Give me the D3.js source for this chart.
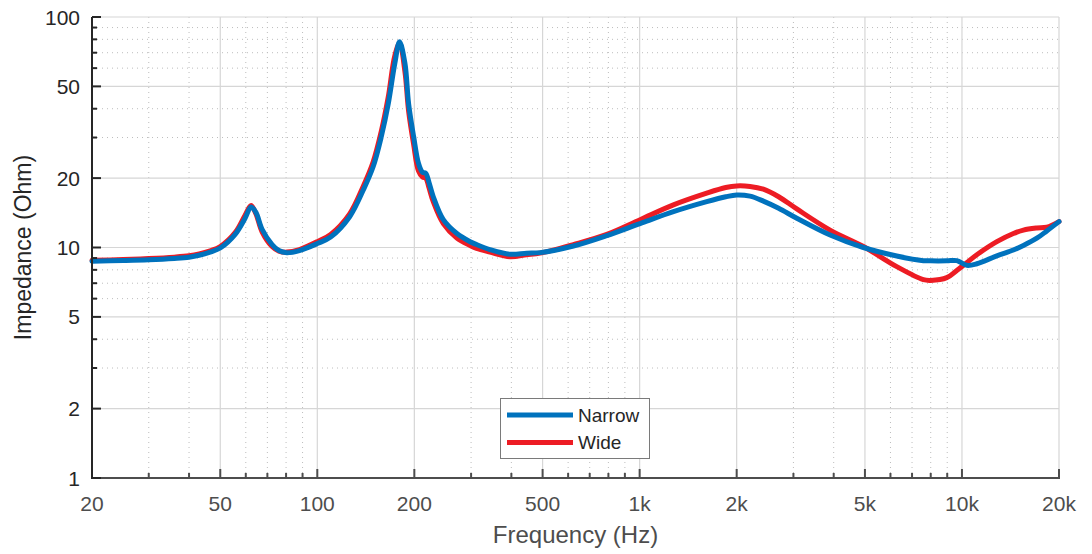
<!DOCTYPE html>
<html>
<head>
<meta charset="utf-8">
<script src="https://cdn.jsdelivr.net/npm/d3@7"></script>
<style>
  html, body { margin: 0; padding: 0; background: #fff; }
  svg { display: block; font-family: "Liberation Sans", Arial, Helvetica, sans-serif; }
</style>
</head>
<body>
<svg id="chart" width="1092" height="554"></svg>
<script>
// ---- data ----
const freq = [20, 25, 30, 36, 40, 43, 46.5, 50, 55.6, 59.7, 62.3, 64.5, 67.4, 72.4, 76, 80.4, 88, 100, 110, 126, 139, 149, 158, 166, 174, 180, 187, 192, 199, 206, 212, 217, 222, 229, 246, 271, 298, 312, 343, 396, 446, 491, 623, 791, 1003, 1273, 1615, 1850, 2000, 2200, 2420, 2700, 3073, 3898, 4945, 6276, 7592, 8000, 8970, 9636, 10350, 11120, 12830, 14440, 15510, 17070, 18330, 20000];
const narrow = [8.72, 8.78, 8.85, 8.97, 9.08, 9.25, 9.55, 9.95, 11.4, 13.4, 15.0, 14.2, 12.0, 10.3, 9.7, 9.5, 9.7, 10.4, 11.1, 13.6, 17.8, 22.4, 30.3, 42, 63, 78, 63, 42, 30.3, 23.2, 21.2, 21.0, 19.2, 16.6, 13.2, 11.5, 10.6, 10.3, 9.8, 9.35, 9.45, 9.5, 10.15, 11.26, 12.7, 14.3, 15.8, 16.6, 16.9, 16.7, 15.9, 14.8, 13.4, 11.33, 10.0, 9.18, 8.77, 8.75, 8.75, 8.77, 8.37, 8.5, 9.2, 9.75, 10.2, 10.97, 11.8, 12.95];
const wide = [8.8, 8.86, 8.95, 9.08, 9.2, 9.37, 9.67, 10.1, 11.6, 13.8, 15.2, 14.0, 11.7, 10.1, 9.65, 9.55, 9.8, 10.6, 11.4, 14.0, 18.5, 23.5, 32, 45, 68, 77, 58, 39, 28, 21.5, 20.2, 20.0, 18.2, 15.8, 12.7, 11.0, 10.2, 9.9, 9.55, 9.12, 9.3, 9.45, 10.3, 11.4, 13.2, 15.3, 17.2, 18.2, 18.5, 18.4, 17.9, 16.6, 14.7, 11.9, 10.1, 8.26, 7.25, 7.2, 7.4, 7.95, 8.6, 9.3, 10.6, 11.5, 11.9, 12.15, 12.25, 12.95];

const xMajor = [20, 50, 100, 200, 500, 1000, 2000, 5000, 10000, 20000];
const xMajorLabels = ["20", "50", "100", "200", "500", "1k", "2k", "5k", "10k", "20k"];
const xMinor = [30, 40, 60, 70, 80, 90, 300, 400, 600, 700, 800, 900, 3000, 4000, 6000, 7000, 8000, 9000];
const yMajor = [1, 2, 5, 10, 20, 50, 100];
const yMajorLabels = ["1", "2", "5", "10", "20", "50", "100"];
const yMinor = [3, 4, 6, 7, 8, 9, 30, 40, 60, 70, 80, 90];

const seriesNames = ["Narrow", "Wide"];
const seriesColors = ["#0072BD", "#ED1C24"];

// ---- layout ----
const L = 92, R = 1059, T = 17, B = 478;
const svg = d3.select("#chart");
const x = d3.scaleLog().domain([20, 20000]).range([L, R]);
const y = d3.scaleLog().domain([1, 100]).range([B, T]);

const grid = svg.append("g");
// minor grid (dotted)
grid.selectAll(".xmin").data(xMinor).enter().append("line")
  .attr("x1", d => x(d)).attr("x2", d => x(d)).attr("y1", T).attr("y2", B)
  .attr("stroke", "#bdbdbd").attr("stroke-width", 1).attr("stroke-dasharray", "1,4");
grid.selectAll(".ymin").data(yMinor).enter().append("line")
  .attr("y1", d => y(d)).attr("y2", d => y(d)).attr("x1", L).attr("x2", R)
  .attr("stroke", "#bdbdbd").attr("stroke-width", 1).attr("stroke-dasharray", "1,4");
// major grid (solid)
grid.selectAll(".xmaj").data(xMajor).enter().append("line")
  .attr("x1", d => x(d)).attr("x2", d => x(d)).attr("y1", T).attr("y2", B)
  .attr("stroke", "#d6d6d6").attr("stroke-width", 1.2);
grid.selectAll(".ymaj").data(yMajor).enter().append("line")
  .attr("y1", d => y(d)).attr("y2", d => y(d)).attr("x1", L).attr("x2", R)
  .attr("stroke", "#d6d6d6").attr("stroke-width", 1.2);

// ---- lines ----
const line = vals => d3.line()
  .x((d, i) => x(freq[i]))
  .y(d => y(d))
  .curve(d3.curveCatmullRom.alpha(0.5))(vals);

svg.append("path").attr("d", line(wide))
  .attr("fill", "none").attr("stroke", seriesColors[1]).attr("stroke-width", 5)
  .attr("stroke-linejoin", "round").attr("stroke-linecap", "round");
svg.append("path").attr("d", line(narrow))
  .attr("fill", "none").attr("stroke", seriesColors[0]).attr("stroke-width", 5)
  .attr("stroke-linejoin", "round").attr("stroke-linecap", "round");

// ---- axes ----
const xAxisColor = "#4d4d4d", yAxisColor = "#262626";
// x axis
const xAx = svg.append("g");
xAx.selectAll(".tmaj").data(xMajor).enter().append("line")
  .attr("x1", d => x(d)).attr("x2", d => x(d)).attr("y1", B).attr("y2", B - 9)
  .attr("stroke", xAxisColor).attr("stroke-width", 2);
xAx.selectAll(".tmin").data(xMinor).enter().append("line")
  .attr("x1", d => x(d)).attr("x2", d => x(d)).attr("y1", B).attr("y2", B - 5)
  .attr("stroke", xAxisColor).attr("stroke-width", 2);
xAx.append("line").attr("x1", L).attr("x2", R + 1).attr("y1", B).attr("y2", B)
  .attr("stroke", xAxisColor).attr("stroke-width", 2);
xAx.selectAll(".lab").data(xMajor).enter().append("text")
  .attr("x", d => x(d)).attr("y", 511).attr("text-anchor", "middle")
  .attr("font-size", 21).attr("fill", xAxisColor)
  .text((d, i) => xMajorLabels[i]);
svg.append("text").attr("x", (L + R) / 2).attr("y", 543)
  .attr("text-anchor", "middle").attr("font-size", 24).attr("fill", xAxisColor)
  .text("Frequency (Hz)");

// y axis
const yAx = svg.append("g");
yAx.selectAll(".tmaj").data(yMajor).enter().append("line")
  .attr("x1", L).attr("x2", L + 9).attr("y1", d => y(d)).attr("y2", d => y(d))
  .attr("stroke", yAxisColor).attr("stroke-width", 2);
yAx.selectAll(".tmin").data(yMinor).enter().append("line")
  .attr("x1", L).attr("x2", L + 5).attr("y1", d => y(d)).attr("y2", d => y(d))
  .attr("stroke", yAxisColor).attr("stroke-width", 2);
yAx.append("line").attr("x1", L).attr("x2", L).attr("y1", B + 1).attr("y2", T)
  .attr("stroke", yAxisColor).attr("stroke-width", 2);
yAx.selectAll(".lab").data(yMajor).enter().append("text")
  .attr("x", 80).attr("y", d => y(d)).attr("dy", "0.36em").attr("text-anchor", "end")
  .attr("font-size", 21).attr("fill", yAxisColor)
  .text((d, i) => yMajorLabels[i]);
svg.append("text").attr("transform", `translate(31,${(T + B) / 2}) rotate(-90)`)
  .attr("text-anchor", "middle").attr("font-size", 23).attr("fill", yAxisColor)
  .text("Impedance (Ohm)");

// ---- legend ----
const lg = svg.append("g");
lg.append("rect").attr("x", 500.5).attr("y", 398.5).attr("width", 149).attr("height", 60)
  .attr("fill", "#fff").attr("stroke", "#7a7a7a").attr("stroke-width", 1);
seriesNames.forEach((n, i) => {
  const yy = 415 + i * 27.5;
  lg.append("line").attr("x1", 507).attr("x2", 573).attr("y1", yy).attr("y2", yy)
    .attr("stroke", seriesColors[i]).attr("stroke-width", 5);
  lg.append("text").attr("x", 578).attr("y", yy).attr("dy", "0.36em")
    .attr("font-size", 19).attr("fill", "#262626").text(n);
});
</script>
</body>
</html>
